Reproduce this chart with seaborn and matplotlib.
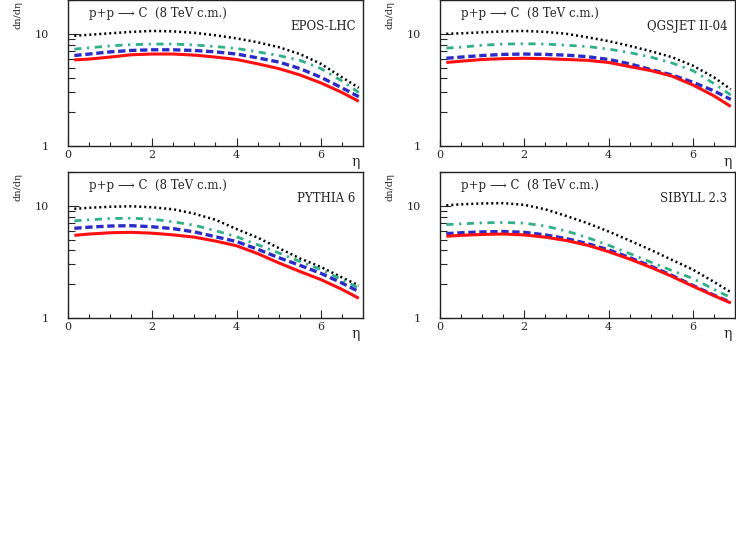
import numpy as np
import pandas as pd
import seaborn as sns
import matplotlib.pyplot as plt
from matplotlib.ticker import LogLocator, NullFormatter, FixedLocator, FixedFormatter


# pseudorapidity points
eta = [0.15, 0.5, 1.0, 1.5, 2.0, 2.5, 3.0, 3.5, 4.0, 4.5, 5.0, 5.5, 6.0, 6.5, 6.9]

models = ['EPOS-LHC', 'QGSJET II-04', 'PYTHIA 6', 'SIBYLL 2.3']
series = ['black', 'green', 'blue', 'red']

epos_black = [9.6, 9.8, 10.1, 10.4, 10.6, 10.5, 10.2, 9.7, 9.1, 8.4, 7.6, 6.6, 5.4, 4.1, 3.3]
epos_green = [7.3, 7.5, 7.8, 8.0, 8.1, 8.1, 7.95, 7.7, 7.4, 6.9, 6.4, 5.8, 4.9, 3.8, 3.0]
epos_blue = [6.4, 6.6, 6.9, 7.1, 7.2, 7.2, 7.1, 6.9, 6.6, 6.1, 5.6, 4.9, 4.1, 3.3, 2.75]
epos_red = [5.85, 5.95, 6.2, 6.5, 6.6, 6.6, 6.45, 6.2, 5.9, 5.4, 4.9, 4.3, 3.65, 3.0, 2.5]

qgs_black = [10.0, 10.1, 10.3, 10.5, 10.6, 10.4, 10.0, 9.3, 8.6, 7.8, 7.0, 6.2, 5.2, 4.1, 3.2]
qgs_green = [7.45, 7.6, 7.9, 8.1, 8.15, 8.1, 7.9, 7.7, 7.3, 6.8, 6.2, 5.5, 4.7, 3.6, 2.85]
qgs_blue = [6.05, 6.2, 6.4, 6.55, 6.6, 6.55, 6.45, 6.25, 5.9, 5.4, 4.8, 4.3, 3.7, 3.1, 2.6]
qgs_red = [5.55, 5.7, 5.9, 6.0, 6.05, 6.0, 5.9, 5.8, 5.55, 5.1, 4.7, 4.2, 3.5, 2.8, 2.25]

pyt_black = [9.4, 9.6, 9.8, 9.9, 9.7, 9.3, 8.5, 7.5, 6.2, 5.2, 4.2, 3.4, 2.85, 2.3, 1.95]
pyt_green = [7.35, 7.5, 7.7, 7.75, 7.6, 7.2, 6.7, 6.0, 5.3, 4.5, 3.8, 3.2, 2.7, 2.2, 1.85]
pyt_blue = [6.3, 6.45, 6.6, 6.65, 6.5, 6.25, 5.85, 5.3, 4.8, 4.1, 3.45, 2.95, 2.5, 2.05, 1.72]
pyt_red = [5.45, 5.6, 5.75, 5.8, 5.7, 5.5, 5.25, 4.85, 4.4, 3.75, 3.1, 2.6, 2.2, 1.8, 1.5]

sib_black = [10.1, 10.3, 10.5, 10.55, 10.2, 9.3, 8.1, 7.0, 5.9, 4.9, 4.05, 3.3, 2.7, 2.1, 1.7]
sib_green = [6.8, 6.9, 7.05, 7.1, 7.0, 6.6, 5.95, 5.2, 4.45, 3.75, 3.15, 2.65, 2.25, 1.8, 1.52]
sib_blue = [5.65, 5.75, 5.85, 5.9, 5.8, 5.5, 5.1, 4.6, 4.05, 3.45, 2.9, 2.4, 1.95, 1.6, 1.38]
sib_red = [5.35, 5.45, 5.55, 5.6, 5.5, 5.25, 4.9, 4.45, 3.9, 3.35, 2.83, 2.35, 1.92, 1.58, 1.36]

data = {
    'EPOS-LHC': [epos_black, epos_green, epos_blue, epos_red],
    'QGSJET II-04': [qgs_black, qgs_green, qgs_blue, qgs_red],
    'PYTHIA 6': [pyt_black, pyt_green, pyt_blue, pyt_red],
    'SIBYLL 2.3': [sib_black, sib_green, sib_blue, sib_red],
}

# line looks
styles = {
    'black': dict(color='black', lw=1.8, dashes=(0.8, 1.2)),
    'green': dict(color='#2fb087', lw=2.0, dashes=(2.6, 2.0, 0.8, 2.0)),
    'blue': dict(color='#2b2bc8', lw=2.4, dashes=(2.2, 1.1)),
    'red': dict(color='#ff1010', lw=2.2, dashes=''),
}

sns.set_style('ticks')
plt.rcParams['font.family'] = ['DejaVu Serif', 'DejaVu Sans']

fig = plt.figure(figsize=(7.36, 5.45), dpi=100)
W, H = 736, 545
boxes = [(68, 0), (440, 0), (68, 172), (440, 172)]

for model, (px, py) in zip(models, boxes):
    ax = fig.add_axes([px / W, 1 - (py + 146) / H, 295 / W, 146 / H])
    for name, vals in zip(series, data[model]):
        st = styles[name]
        df = pd.DataFrame({'eta': eta, 'dndeta': vals})
        sns.lineplot(data=df, x='eta', y='dndeta', ax=ax, color=st['color'],
                     lw=st['lw'], legend=False)
        l = ax.lines[-1]
        if st['dashes']:
            l.set_dashes(st['dashes'])
        l.set_solid_capstyle('butt')

    ax.set_yscale('log')
    ax.set_xlim(0, 7)
    ax.set_ylim(1, 20)
    ax.set_xlabel('')
    ax.set_ylabel('')

    ax.xaxis.set_major_locator(FixedLocator([0, 2, 4, 6]))
    ax.xaxis.set_minor_locator(FixedLocator(np.arange(0.5, 7, 0.5)))
    ax.yaxis.set_major_locator(FixedLocator([1, 10]))
    ax.yaxis.set_major_formatter(FixedFormatter(['1', '10']))
    ax.yaxis.set_minor_locator(LogLocator(base=10, subs=np.arange(2, 10)))
    ax.yaxis.set_minor_formatter(NullFormatter())

    ax.tick_params(axis='x', which='major', direction='in', length=6, width=0.8,
                   labelsize=8, pad=3, top=False)
    ax.tick_params(axis='x', which='minor', direction='in', length=3, width=0.8, top=False)
    ax.tick_params(axis='y', which='major', direction='in', length=8, width=0.8,
                   labelsize=8, pad=14, right=False)
    ax.tick_params(axis='y', which='minor', direction='in', length=5, width=0.8, right=False)

    for sp in ax.spines.values():
        sp.set_linewidth(1.0)
        sp.set_color('#222222')
        sp.set_visible(True)

    ax.text(0.07, 0.91, 'p+p \u27f6 C  (8 TeV c.m.)', transform=ax.transAxes,
            fontsize=8.5, va='center', ha='left')
    ax.text(0.975, 0.82, model, transform=ax.transAxes, fontsize=8.5,
            va='center', ha='right')
    ax.text(0.975, -0.11, '\u03b7', transform=ax.transAxes, fontsize=10,
            va='center', ha='center')
    ax.text(-0.17, 0.99, 'dn/d\u03b7', transform=ax.transAxes, fontsize=7,
            rotation=90, va='top', ha='center')

fig.savefig('out.png', dpi=100, facecolor='white')
